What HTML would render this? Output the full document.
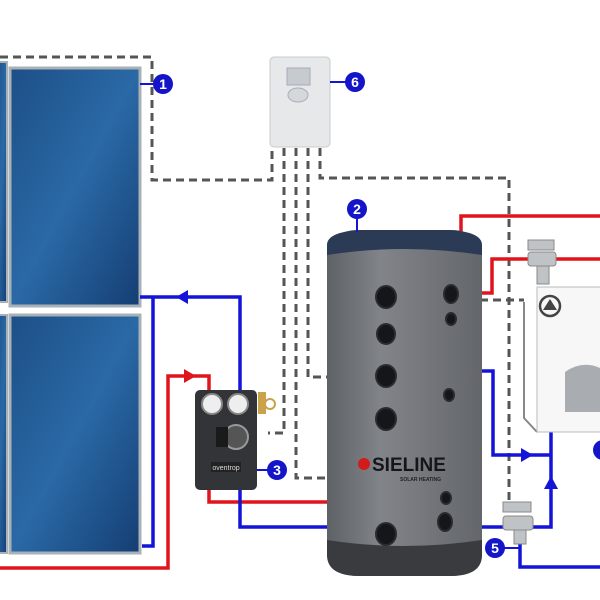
<!DOCTYPE html>
<html><head><style>html,body{margin:0;padding:0;background:#fff}svg{display:block}</style></head><body>
<svg width="600" height="600" viewBox="0 0 600 600" xmlns="http://www.w3.org/2000/svg" font-family="Liberation Sans, sans-serif">
<defs>
<linearGradient id="pan" x1="0" y1="0" x2="1" y2="1"><stop offset="0" stop-color="#1d4f86"/><stop offset="0.5" stop-color="#2a69a6"/><stop offset="1" stop-color="#153e73"/></linearGradient>
<linearGradient id="tank" x1="0" x2="1"><stop offset="0" stop-color="#5e6166"/><stop offset="0.35" stop-color="#818489"/><stop offset="1" stop-color="#63666b"/></linearGradient>
</defs>
<g fill="none" stroke="#555" stroke-width="3" stroke-dasharray="8 5">
<path d="M0 57 H152 V180 H272 V148"/>
<path d="M320 148 V178 H509 V500"/>
<path d="M308 148 V377 H327"/>
<path d="M284 148 V433 H268"/>
<path d="M296 148 V478 H327"/>
<path d="M480 300 H524"/>
</g>
<rect x="-4" y="62" width="11" height="240" fill="url(#pan)" stroke="#a8b0b8" stroke-width="2"/>
<rect x="-4" y="315" width="11" height="238" fill="url(#pan)" stroke="#a8b0b8" stroke-width="2"/>
<rect x="10" y="68" width="130" height="238" fill="url(#pan)" stroke="#a8b0b8" stroke-width="3"/>
<rect x="10" y="315" width="130" height="238" fill="url(#pan)" stroke="#a8b0b8" stroke-width="3"/>
<g fill="none" stroke-width="3.5">
<path d="M0 568 H168 V376 H209 V390" stroke="#e0141c"/>
<path d="M209 488 V502 H327" stroke="#e0141c"/>
<path d="M461 233 V216 H600" stroke="#e0141c"/>
<path d="M480 293 H492 V259 H600" stroke="#e0141c"/>
<path d="M140 297 H240 V390" stroke="#1414d8"/>
<path d="M153 297 V546 H142" stroke="#1414d8"/>
<path d="M240 488 V527 H327" stroke="#1414d8"/>
<path d="M480 371 H493 V455 H551" stroke="#1414d8"/>
<path d="M551 430 V527 H480" stroke="#1414d8"/>
<path d="M520 530 V567 H600" stroke="#1414d8"/>
</g>
<g>
<polygon points="176,297 188,290 188,304" fill="#1414d8"/>
<polygon points="196,376 184,369 184,383" fill="#e0141c"/>
<polygon points="533,455 521,448 521,462" fill="#1414d8"/>
<polygon points="551,476 544,489 558,489" fill="#1414d8"/>
</g>
<rect x="327" y="230" width="155" height="346" rx="30" ry="22" fill="url(#tank)"/>
<path d="M327 255 V245 Q327 232 360 230 H450 Q482 232 482 245 V255 Q404 243 327 255Z" fill="#2b3a55"/>
<path d="M327 540 Q404 552 482 540 V555 Q482 576 450 576 H360 Q327 576 327 555Z" fill="#3a3b3f"/>
<g fill="#15161a" stroke="#2a2b30" stroke-width="2">
<ellipse cx="386" cy="297" rx="10" ry="11"/><ellipse cx="386" cy="334" rx="9" ry="10"/>
<ellipse cx="386" cy="376" rx="10" ry="11"/><ellipse cx="386" cy="419" rx="10" ry="11"/>
<ellipse cx="386" cy="534" rx="10" ry="11"/><ellipse cx="451" cy="294" rx="7" ry="9"/>
<ellipse cx="451" cy="319" rx="5" ry="6"/><ellipse cx="449" cy="395" rx="5" ry="6"/>
<ellipse cx="446" cy="498" rx="5" ry="6"/><ellipse cx="445" cy="522" rx="7" ry="9"/>
</g>
<circle cx="364" cy="464" r="6" fill="#d21c1c"/>
<text x="372" y="471" font-size="19" font-weight="bold" fill="#15161a">SIELINE</text>
<text x="400" y="481" font-size="5" font-weight="bold" fill="#222">SOLAR HEATING</text>
<rect x="270" y="57" width="60" height="90" rx="4" fill="#e6e8ea" stroke="#c8cbce"/>
<rect x="287" y="68" width="23" height="17" fill="#c5cbcf" stroke="#aab"/>
<ellipse cx="298" cy="95" rx="10" ry="7" fill="#d5d8db" stroke="#aab"/>
<rect x="195" y="390" width="62" height="100" rx="5" fill="#333438"/>
<circle cx="212" cy="404" r="10" fill="#eee" stroke="#888" stroke-width="2"/>
<circle cx="238" cy="404" r="10" fill="#eee" stroke="#888" stroke-width="2"/>
<circle cx="236" cy="437" r="12" fill="#555" stroke="#999" stroke-width="2"/>
<rect x="216" y="427" width="12" height="20" fill="#1a1a1a"/>
<rect x="211" y="462" width="30" height="10" fill="#222"/>
<text x="226" y="470" font-size="7" fill="#ddd" text-anchor="middle">oventrop</text>
<rect x="258" y="392" width="8" height="22" fill="#c9a24a"/>
<circle cx="270" cy="404" r="5" fill="#fff" stroke="#c9a24a" stroke-width="2"/>
<path d="M524 302 V418 L537 432" fill="none" stroke="#888" stroke-width="2"/>
<rect x="537" y="287" width="66" height="145" fill="#f7f7f7" stroke="#bbb"/>
<circle cx="550" cy="306" r="10" fill="none" stroke="#444" stroke-width="2.5"/>
<polygon points="550,299 557,310 543,310" fill="#444"/>
<path d="M565 372 Q582 360 600 368 V412 H565 Z" fill="#a9acb0"/>
<g fill="#bfc3c6" stroke="#888">
<rect x="528" y="240" width="26" height="10"/><rect x="528" y="252" width="28" height="14" rx="3"/><rect x="537" y="266" width="12" height="18"/>
<rect x="503" y="502" width="28" height="10"/><rect x="503" y="516" width="30" height="14" rx="3"/><rect x="514" y="530" width="12" height="14"/>
</g>
<g stroke="#1414d8" stroke-width="2" fill="none">
<path d="M140 84 H163"/><path d="M330 82 H355"/><path d="M357 209 V232"/><path d="M257 470 H277"/><path d="M495 548 H520"/>
</g>
<g fill="#1414c8"><circle cx="163" cy="84" r="10"/><circle cx="355" cy="82" r="10"/><circle cx="357" cy="209" r="10"/><circle cx="277" cy="470" r="10"/><circle cx="495" cy="548" r="10"/><circle cx="603" cy="450" r="10"/></g>
<g fill="#fff" font-size="14" font-weight="bold" text-anchor="middle">
<text x="163" y="89">1</text><text x="355" y="87">6</text><text x="357" y="214">2</text><text x="277" y="475">3</text><text x="495" y="553">5</text>
</g>
</svg>
</body></html>
